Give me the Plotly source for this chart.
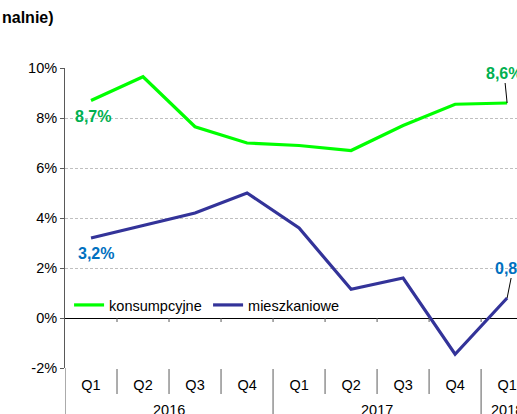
import plotly.graph_objects as go

# Quarters and years
years = ["2016", "2016", "2016", "2016", "2017", "2017", "2017", "2017", "2018"]
quarters = ["Q1", "Q2", "Q3", "Q4", "Q1", "Q2", "Q3", "Q4", "Q1"]

# y/y growth, %
konsumpcyjne = [8.7, 9.65, 7.65, 7.0, 6.9, 6.7, 7.7, 8.55, 8.6]
mieszkaniowe = [3.2, 3.7, 4.2, 5.0, 3.6, 1.15, 1.6, -1.45, 0.8]

y_ticks = [-2, 0, 2, 4, 6, 8, 10]
y_labels = ["-2%", "0%", "2%", "4%", "6%", "8%", "10%"]

GREEN = "#00FF00"
BLUE = "#333399"
GREEN_LBL = "#00B050"
BLUE_LBL = "#0070C0"
SEP = "#808080"
FONT = "Liberation Sans, Arial, sans-serif"

cats = [f"{y} {q}" for y, q in zip(years, quarters)]
n = len(cats)
x_max = 8.19

W, H = 517, 414
L, T, B = 65, 68, 46
plot_w, plot_h = W - L, H - T - B

fig = go.Figure()

fig.add_trace(go.Scatter(
    x=cats, y=konsumpcyjne, name="konsumpcyjne",
    mode="lines", line=dict(color=GREEN, width=3.2),
))
fig.add_trace(go.Scatter(
    x=cats, y=mieszkaniowe, name="mieszkaniowe",
    mode="lines", line=dict(color=BLUE, width=3.2),
))

# small tick marks on the zero line between categories
tx, ty = [], []
for i in range(n - 1):
    tx += [i + 0.5, i + 0.5, None]
    ty += [0, -0.16, None]
fig.add_trace(go.Scatter(
    x=tx, y=ty, xaxis="x2", mode="lines",
    line=dict(color="#595959", width=1),
    showlegend=False, hoverinfo="skip",
))

# separators of the two-level category labels
shapes = [dict(type="line", xref="x2", yref="paper", x0=-0.5, x1=-0.5,
               y0=0, y1=-B / plot_h, line=dict(color="#595959", width=1))]
for i in range(n - 1):
    new_year = years[i] != years[i + 1]
    shapes.append(dict(
        type="line", xref="x2", yref="paper", x0=i + 0.5, x1=i + 0.5,
        y0=-1 / plot_h, y1=-(B if new_year else 26) / plot_h,
        line=dict(color=SEP, width=1.3),
    ))

first, last = 0, n - 1
lbl_font = dict(family=FONT, size=16, weight="bold")
annotations = [
    dict(x=first, y=konsumpcyjne[first], xref="x2", yref="y",
         text="8,7%", showarrow=False, xshift=2, yshift=-16,
         font=dict(lbl_font, color=GREEN_LBL)),
    dict(x=first, y=mieszkaniowe[first], xref="x2", yref="y",
         text="3,2%", showarrow=False, xshift=5, yshift=-15,
         font=dict(lbl_font, color=BLUE_LBL)),
    dict(x=last, y=konsumpcyjne[last], xref="x2", yref="y",
         text="8,6%", showarrow=True, arrowhead=0, arrowwidth=1,
         arrowcolor="black", ax=-3, ay=-30, standoff=0,
         font=dict(lbl_font, color=GREEN_LBL)),
    dict(x=last, y=mieszkaniowe[last], xref="x2", yref="y",
         text="0,8%", showarrow=True, arrowhead=0, arrowwidth=1,
         arrowcolor="black", ax=6, ay=-30, standoff=0,
         font=dict(lbl_font, color=BLUE_LBL)),
    dict(x=-L / plot_w, y=1 + (T - 17) / plot_h, xref="paper", yref="paper",
         xanchor="left", yanchor="middle", text="nalnie)", showarrow=False,
         font=dict(family=FONT, size=16, color="black", weight="bold")),
]

# year labels centred under their quarters
for yr in dict.fromkeys(years):
    idx = [i for i, y in enumerate(years) if y == yr]
    annotations.append(dict(
        x=sum(idx) / len(idx), y=-42 / plot_h, xref="x2", yref="paper",
        yanchor="middle", text=yr, showarrow=False,
        font=dict(family=FONT, size=14.5, color="black"),
    ))

fig.update_layout(
    width=W, height=H,
    margin=dict(l=L, r=0, t=T, b=B, autoexpand=False),
    paper_bgcolor="white", plot_bgcolor="white",
    font=dict(family=FONT, size=14.5, color="black"),
    showlegend=True,
    legend=dict(orientation="h", x=0.009, y=0.21, xanchor="left", yanchor="middle",
                bgcolor="rgba(0,0,0,0)", font=dict(size=14.5),
                entrywidth=94, tracegroupgap=0),
    xaxis=dict(
        type="category", range=[-0.5, x_max],
        tickvals=cats, ticktext=quarters,
        showgrid=False, showline=False, zeroline=False,
        ticks="", ticklabelstandoff=6,
        tickfont=dict(size=14.5, color="black"),
    ),
    xaxis2=dict(
        overlaying="x", range=[-0.5, x_max], visible=False,
    ),
    yaxis=dict(
        range=[-2, 10], tickvals=y_ticks, ticktext=y_labels,
        showgrid=True, gridcolor="#BFBFBF", griddash="3px,2px", gridwidth=1,
        zeroline=True, zerolinecolor="black", zerolinewidth=1,
        showline=True, linecolor="#595959", linewidth=1,
        ticks="outside", ticklen=4, tickcolor="#595959",
        tickfont=dict(size=14.5, color="black"),
    ),
    shapes=shapes,
    annotations=annotations,
)

# drop the browser's default 8px page margin so the figure sits at (0, 0)
fig.write_html("out.html", config={"displayModeBar": False},
               post_script="document.body.style.margin='0';"
                           "document.body.style.overflow='hidden';")
